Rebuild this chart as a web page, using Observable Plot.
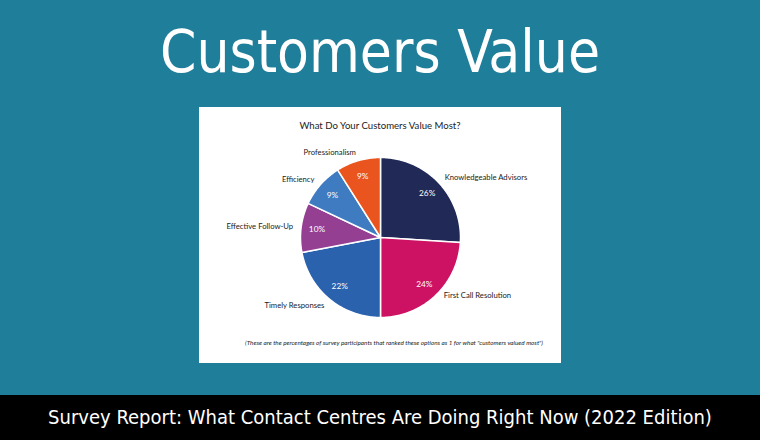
<!DOCTYPE html>
<html>
<head>
<meta charset="utf-8">
<script src="https://cdn.jsdelivr.net/npm/d3@7"></script>
<script src="https://cdn.jsdelivr.net/npm/@observablehq/plot@0.6"></script>
<style>
  html, body { margin: 0; padding: 0; }
  #page { position: relative; width: 760px; height: 440px; background: #1f7e99; overflow: hidden; }
  #title { position: absolute; left: 0; width: 760px; top: 14px; text-align: center; color: #fff;
           font-family: "DejaVu Sans Condensed", "DejaVu Sans", sans-serif; font-size: 58px; line-height: 76px; }
  #panel { position: absolute; left: 199px; top: 107px; width: 362px; height: 256px; background: #fff; }
  #ctitle { position: absolute; left: 0; width: 362px; top: 12px; text-align: center; color: #222;
            font-family: Lato, "Noto Sans", sans-serif; font-size: 9.6px; line-height: 14px; }
  #chart { position: absolute; left: 0; top: 0; }
  #note { position: absolute; left: 0; width: 362px; top: 231px; text-align: center; color: #222;
          font-family: Lato, "Noto Sans", sans-serif; font-style: italic; font-size: 6.3px; line-height: 10px; padding-left: 28px; box-sizing: border-box; }
  #footer { position: absolute; left: 0; top: 395px; width: 760px; height: 45px; background: #000; color: #fff;
            text-align: center; font-family: "DejaVu Sans Condensed", "DejaVu Sans", sans-serif; font-size: 20px; line-height: 45px; }
</style>
</head>
<body>
<div id="page">
  <div id="title">Customers Value</div>
  <div id="panel">
    <div id="ctitle">What Do Your Customers Value Most?</div>
    <div id="chart"></div>
    <div id="note">(These are the percentages of survey participants that ranked these options as 1 for what "customers valued most")</div>
  </div>
  <div id="footer">Survey Report: What Contact Centres Are Doing Right Now (2022 Edition)</div>
</div>
<script>
// ---- data ----
const categories = ["Knowledgeable Advisors", "First Call Resolution", "Timely Responses", "Effective Follow-Up", "Efficiency", "Professionalism"];
const values = [26, 24, 22, 10, 9, 9];
const colors = ["#212a56", "#cd1264", "#2a62ae", "#953f92", "#3e7bc1", "#e9541f"];

// ---- build pie geometry from data ----
const rows = categories.map((c, i) => ({label: c, value: values[i]}));
const arcs = d3.pie().sort(null).value(d => d.value)(rows);

const poly = [];
arcs.forEach(a => {
  const n = Math.max(2, Math.ceil((a.endAngle - a.startAngle) / (Math.PI / 180)));
  poly.push({label: a.data.label, x: 0, y: 0});
  for (let k = 0; k <= n; k++) {
    const t = a.startAngle + (a.endAngle - a.startAngle) * k / n;
    poly.push({label: a.data.label, x: Math.sin(t), y: Math.cos(t)});
  }
  poly.push({label: a.data.label, x: 0, y: 0});
});

const inner = arcs.map(a => {
  const m = (a.startAngle + a.endAngle) / 2;
  return {label: a.data.value + "%", x: 0.8 * Math.sin(m), y: 0.8 * Math.cos(m)};
});
const outer = arcs.map(a => {
  const m = (a.startAngle + a.endAngle) / 2;
  return {label: a.data.label, x: 1.1 * Math.sin(m), y: 1.1 * Math.cos(m), right: Math.sin(m) > 0};
});

const font = "Lato, 'Noto Sans', sans-serif";
const fs = 7.7;
const chart = Plot.plot({
  width: 362,
  height: 256,
  margin: 0,
  style: {background: "transparent", fontFamily: font},
  x: {domain: [-1, 1], range: [101, 261], axis: null},
  y: {domain: [-1, 1], range: [210, 50], axis: null},
  color: {domain: categories, range: colors},
  marks: [
    Plot.line(poly, {x: "x", y: "y", z: "label", fill: "label", stroke: "#fff", strokeWidth: 1.5, curve: "linear"}),
    Plot.text(inner, {x: "x", y: "y", text: "label", fill: "#fff", fontSize: 8.3}),
    Plot.text(outer.filter(d => d.right && d.label !== "First Call Resolution"), {x: "x", y: "y", text: "label", fill: "#222", fontSize: fs, textAnchor: "start"}),
    Plot.text(outer.filter(d => d.label === "First Call Resolution"), {x: "x", y: "y", text: "label", fill: "#222", fontSize: fs, textAnchor: "start", dx: 3, dy: -6}),
    Plot.text(outer.filter(d => !d.right), {x: "x", y: "y", text: "label", fill: "#222", fontSize: fs, textAnchor: "end"})
  ]
});
document.getElementById("chart").appendChild(chart);
</script>
</body>
</html>
